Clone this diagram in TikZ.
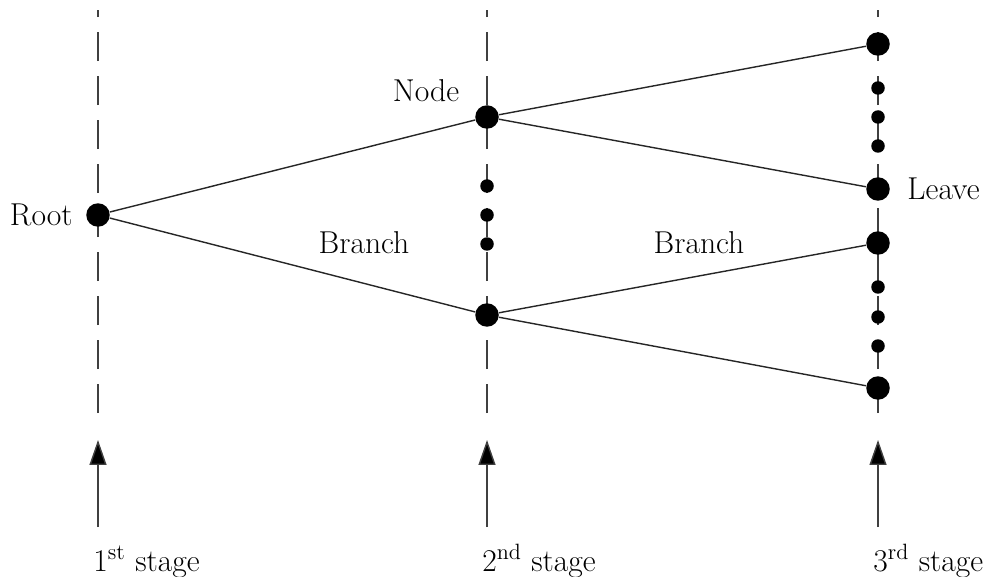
\documentclass[tikz,border=0pt]{standalone}
\usepackage{tikz}
\usetikzlibrary{arrows.meta, positioning}

\begin{document}
\begin{tikzpicture}[
  x=0.02cm, y=-0.02cm,
  font=\fontsize{18}{22}\selectfont,
  bigdot/.style={circle, fill=black, inner sep=0pt, minimum size=0.47cm},
  smalldot/.style={circle, fill=black, inner sep=0pt, minimum size=0.27cm},
  guide/.style={line width=1pt, black!75, dash pattern=on 0.58cm off 0.3cm},
  edge/.style={line width=0.8pt, black!85},
  arr/.style={-{Triangle[length=0.5cm,width=0.34cm,fill=black]}, line width=0.8pt, black!75},
  lbl/.style={inner sep=0pt}
]
  \useasboundingbox (0,0) rectangle (986,577);

  % dashed stage lines
  \draw[guide] (98,413)  -- (98,10);
  \draw[guide] (487,413) -- (487,10);
  \draw[guide] (878,413) -- (878,10);

  % tree
  \node[bigdot] (root) at (98,215) {};
  \node[bigdot] (upper) at (487,117) {};
  \node[bigdot] (lower) at (487,315) {};
  \node[smalldot] (mid1) at (487,186) {};
  \node[smalldot] (mid2) at (487,215) {};
  \node[smalldot] (mid3) at (487,244) {};

  \node[bigdot] (leaf1) at (878,44) {};
  \node[bigdot] (leaf2) at (878,189) {};
  \node[bigdot] (leaf3) at (878,243) {};
  \node[bigdot] (leaf4) at (878,388) {};
  \node[smalldot] (top1) at (878,88) {};
  \node[smalldot] (top2) at (878,117) {};
  \node[smalldot] (top3) at (878,146) {};
  \node[smalldot] (bot1) at (878,287) {};
  \node[smalldot] (bot2) at (878,317) {};
  \node[smalldot] (bot3) at (878,346) {};

  \draw[edge] (root)  -- (upper);
  \draw[edge] (root)  -- (lower);
  \draw[edge] (upper) -- (leaf1);
  \draw[edge] (upper) -- (leaf2);
  \draw[edge] (lower) -- (leaf3);
  \draw[edge] (lower) -- (leaf4);

  % labels
  \node[lbl, left=0.26cm of root] (rootlbl) {Root};
  \node[lbl, above left=0.12cm and 0.38cm of upper] (nodelbl) {Node};
  \node[lbl, right=0.34cm of leaf2] (leavelbl) {Leave};
  \node[lbl] (branch1) at (364,243) {Branch};
  \node[lbl] (branch2) at (699,243) {Branch};

  % stages
  \node[lbl, anchor=base west] (stage1) at (93,571) {1\textsuperscript{st} stage};
  \node[lbl, anchor=base west] (stage2) at (482,571) {2\textsuperscript{nd} stage};
  \node[lbl, anchor=base west] (stage3) at (873,571) {3\textsuperscript{rd} stage};

  \coordinate (foot1) at (98,527);  \coordinate (tip1) at (98,440);
  \coordinate (foot2) at (487,527); \coordinate (tip2) at (487,440);
  \coordinate (foot3) at (878,527); \coordinate (tip3) at (878,440);
  \draw[arr] (foot1) -- (tip1);
  \draw[arr] (foot2) -- (tip2);
  \draw[arr] (foot3) -- (tip3);
\end{tikzpicture}
\end{document}
